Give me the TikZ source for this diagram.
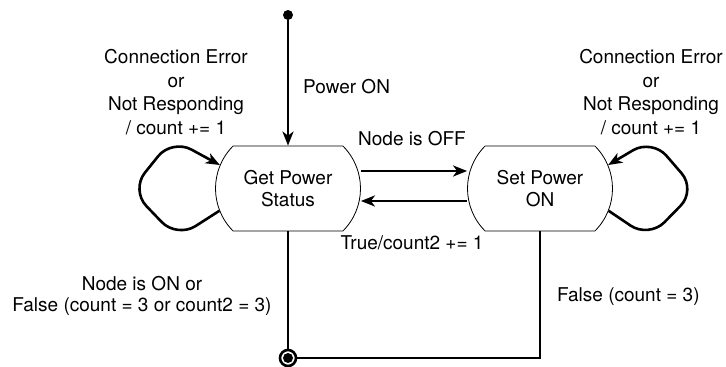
\documentclass[tikz,border=0pt]{standalone}
\usepackage{fontspec}
\setmainfont{TeX Gyre Heros}
\usetikzlibrary{shapes.misc,arrows.meta}

\tikzset{
  state/.style={rounded rectangle, rounded rectangle arc length=90, draw,
    line width=0.8pt, minimum width=145pt, minimum height=85pt, inner sep=0pt,
    align=center, font=\fontsize{19}{22}\selectfont},
  wire/.style={line width=2.6pt},
  flow/.style={wire, -{Stealth[length=14pt,width=11pt,inset=4pt]}},
  lbl/.style={font=\fontsize{19}{23.5}\selectfont, align=center, inner sep=0pt},
}

\begin{document}
\begin{tikzpicture}[x=1pt,y=-1pt]
\useasboundingbox (0,0) rectangle (726,367);

% states
\node[state] (get) at (288,188.5) {Get Power\\Status};
\node[state] (set) at (540,188.5) {Set Power\\ON};

% initial and final pseudo-states
\node[circle, fill, minimum size=10pt, inner sep=0pt] (init) at (288,15) {};
\node[circle, draw, line width=2.6pt, minimum size=16pt, inner sep=0pt] (final) at (288,358) {};
\node[circle, fill, minimum size=10pt, inner sep=0pt] (finaldot) at (final.center) {};

% corner of the return path
\coordinate (corner) at (540,358);

% transitions
\draw[flow] (init) -- (get.north);
\draw[flow] (get.east |- 0,171) -- (set.west |- 0,171);
\draw[flow] (set.west |- 0,201) -- (get.east |- 0,201);
\draw[wire] (get.south) -- (final.north);
\draw[wire] (set.south) -- (corner) -- (final.east);

% self loops
\draw[flow, rounded corners=22pt] (get.198) -- (177,238) -- (131,190) -- (172,139) -- (get.161);
\draw[flow, rounded corners=22pt] (set.342) -- (649,238) -- (696,190) -- (652,139) -- (set.19);

% labels
\node[lbl, anchor=west] (lpow) at (303,87) {Power ON};
\node[lbl] (loff) at (412,139) {Node is OFF};
\node[lbl] (ltrue) at (412,243) {True/count2 += 1};
\node[lbl] (lloopa) at (176,92) {Connection Error\\or\\Not Responding\\/ count += 1};
\node[lbl] (lloopb) at (651,92) {Connection Error\\or\\Not Responding\\/ count += 1};
\node[lbl, font=\fontsize{19}{20.5}\selectfont] (lon) at (142,296) {Node is ON or\\False (count = 3 or count2 = 3)};
\node[lbl, anchor=west] (lfalse) at (557,297) {False (count = 3)};
\end{tikzpicture}
\end{document}
